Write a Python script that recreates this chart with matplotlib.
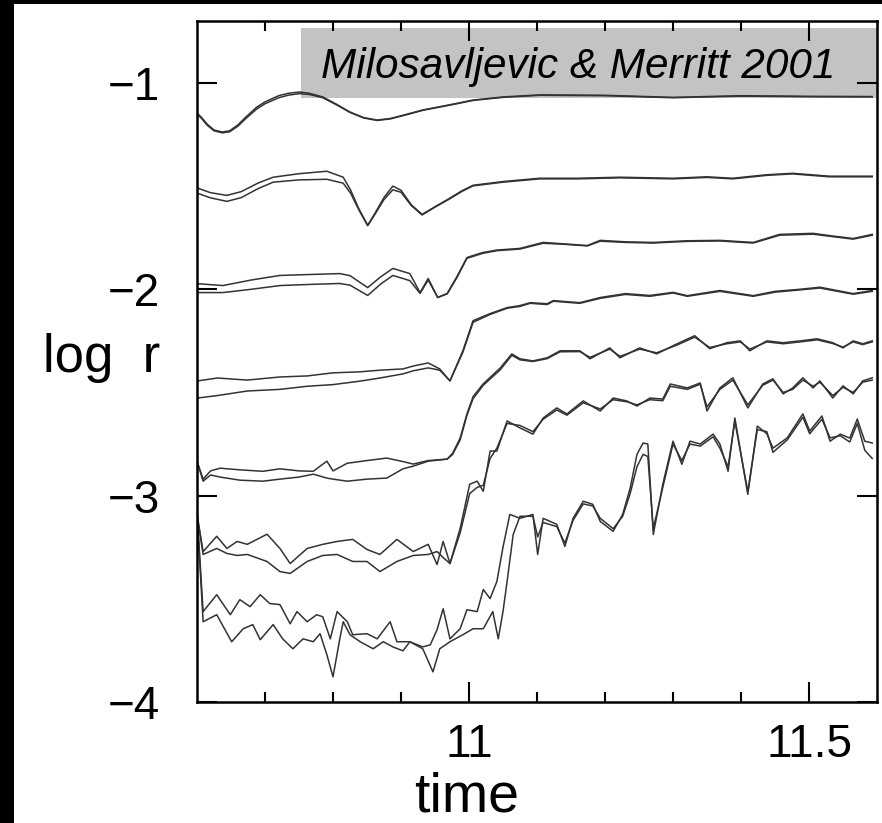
import matplotlib
matplotlib.use('Agg')
import matplotlib.pyplot as plt
from matplotlib.patches import Rectangle
from matplotlib.ticker import FixedLocator

plt.rcParams['font.family'] = ['Liberation Sans', 'DejaVu Sans']

# ---------------- data (time, log r) ----------------
t1 = [10.600, 10.606, 10.615, 10.625, 10.637, 10.648, 10.660, 10.672, 10.688, 10.700, 10.720, 10.735, 10.751, 10.765, 10.785, 10.805, 10.825, 10.845, 10.865, 10.885, 10.905, 10.932, 10.970, 11.006, 11.050, 11.104, 11.200, 11.300, 11.400, 11.500, 11.593]
r1a = [-1.146, -1.165, -1.200, -1.228, -1.238, -1.232, -1.204, -1.165, -1.117, -1.092, -1.062, -1.050, -1.044, -1.050, -1.068, -1.103, -1.141, -1.168, -1.180, -1.172, -1.155, -1.131, -1.107, -1.083, -1.068, -1.058, -1.060, -1.070, -1.062, -1.065, -1.066]
r1b = [-1.150, -1.170, -1.205, -1.232, -1.242, -1.237, -1.210, -1.172, -1.126, -1.101, -1.072, -1.059, -1.052, -1.056, -1.072, -1.106, -1.143, -1.170, -1.182, -1.174, -1.157, -1.133, -1.109, -1.085, -1.070, -1.060, -1.062, -1.072, -1.064, -1.067, -1.068]

t2 = [10.601, 10.620, 10.644, 10.665, 10.690, 10.712, 10.750, 10.791, 10.815, 10.826, 10.838, 10.851, 10.862, 10.875, 10.888, 10.900, 10.915, 10.931, 10.950, 10.970, 10.990, 11.006, 11.050, 11.104, 11.160, 11.222, 11.300, 11.350, 11.388, 11.438, 11.476, 11.530, 11.593]
r2a = [-1.510, -1.532, -1.545, -1.527, -1.485, -1.457, -1.440, -1.428, -1.457, -1.520, -1.610, -1.690, -1.630, -1.555, -1.500, -1.520, -1.590, -1.637, -1.600, -1.562, -1.522, -1.496, -1.478, -1.462, -1.462, -1.457, -1.462, -1.455, -1.462, -1.445, -1.438, -1.452, -1.452]
r2b = [-1.535, -1.557, -1.574, -1.556, -1.512, -1.481, -1.470, -1.467, -1.486, -1.535, -1.615, -1.692, -1.635, -1.565, -1.518, -1.530, -1.594, -1.640, -1.602, -1.565, -1.525, -1.499, -1.481, -1.465, -1.465, -1.460, -1.465, -1.458, -1.465, -1.448, -1.441, -1.455, -1.455]

t3 = [10.601, 10.638, 10.680, 10.722, 10.770, 10.810, 10.825, 10.851, 10.870, 10.888, 10.913, 10.928, 10.940, 10.954, 10.968, 10.982, 10.997, 11.020, 11.041, 11.075, 11.109, 11.140, 11.174, 11.193, 11.230, 11.271, 11.320, 11.369, 11.418, 11.457, 11.506, 11.535, 11.565, 11.593]
r3a = [-1.973, -1.982, -1.955, -1.933, -1.928, -1.924, -1.934, -1.992, -1.940, -1.899, -1.924, -2.016, -1.948, -2.040, -2.020, -1.940, -1.846, -1.822, -1.810, -1.802, -1.773, -1.780, -1.788, -1.763, -1.770, -1.773, -1.765, -1.763, -1.773, -1.734, -1.729, -1.742, -1.754, -1.734]
r3b = [-2.016, -2.016, -2.000, -1.982, -1.976, -1.972, -1.980, -2.030, -1.975, -1.933, -1.958, -2.020, -1.955, -2.040, -2.022, -1.945, -1.850, -1.826, -1.813, -1.805, -1.777, -1.782, -1.790, -1.767, -1.773, -1.776, -1.768, -1.766, -1.776, -1.738, -1.733, -1.745, -1.757, -1.738]

t4 = [10.601, 10.630, 10.674, 10.722, 10.762, 10.800, 10.840, 10.869, 10.903, 10.918, 10.940, 10.957, 10.972, 10.991, 11.006, 11.031, 11.056, 11.075, 11.090, 11.115, 11.124, 11.163, 11.193, 11.230, 11.266, 11.300, 11.321, 11.369, 11.418, 11.450, 11.487, 11.516, 11.565, 11.593]
r4a = [-2.444, -2.430, -2.440, -2.425, -2.420, -2.405, -2.400, -2.392, -2.386, -2.372, -2.357, -2.386, -2.444, -2.298, -2.152, -2.118, -2.089, -2.079, -2.065, -2.070, -2.055, -2.065, -2.040, -2.021, -2.030, -2.015, -2.031, -2.006, -2.031, -2.010, -2.000, -1.990, -2.021, -2.006]
r4b = [-2.527, -2.515, -2.493, -2.485, -2.470, -2.462, -2.445, -2.430, -2.410, -2.395, -2.381, -2.392, -2.444, -2.305, -2.160, -2.122, -2.092, -2.083, -2.068, -2.074, -2.058, -2.068, -2.044, -2.025, -2.034, -2.018, -2.034, -2.010, -2.034, -2.014, -2.003, -1.994, -2.024, -2.010]

t5 = [10.600, 10.609, 10.620, 10.634, 10.663, 10.697, 10.722, 10.750, 10.771, 10.791, 10.800, 10.821, 10.850, 10.879, 10.903, 10.918, 10.940, 10.968, 10.976, 10.987, 10.997, 11.006, 11.021, 11.046, 11.063, 11.075, 11.094, 11.115, 11.134, 11.163, 11.178, 11.207, 11.222, 11.251, 11.276, 11.306, 11.332, 11.354, 11.379, 11.399, 11.413, 11.438, 11.462, 11.487, 11.512, 11.535, 11.550, 11.565, 11.579, 11.593]
r5a = [-2.833, -2.920, -2.880, -2.867, -2.875, -2.882, -2.870, -2.880, -2.882, -2.833, -2.880, -2.843, -2.830, -2.818, -2.835, -2.847, -2.830, -2.823, -2.794, -2.721, -2.604, -2.520, -2.458, -2.381, -2.313, -2.337, -2.347, -2.332, -2.298, -2.298, -2.337, -2.284, -2.332, -2.284, -2.313, -2.264, -2.225, -2.288, -2.259, -2.250, -2.298, -2.250, -2.259, -2.250, -2.240, -2.259, -2.284, -2.250, -2.264, -2.250]
r5b = [-2.833, -2.930, -2.900, -2.910, -2.925, -2.930, -2.920, -2.910, -2.896, -2.915, -2.920, -2.930, -2.920, -2.915, -2.870, -2.857, -2.833, -2.823, -2.800, -2.730, -2.610, -2.530, -2.465, -2.390, -2.320, -2.342, -2.350, -2.336, -2.303, -2.302, -2.330, -2.290, -2.325, -2.290, -2.308, -2.270, -2.232, -2.282, -2.264, -2.255, -2.290, -2.255, -2.264, -2.255, -2.245, -2.263, -2.280, -2.255, -2.268, -2.255]

t6 = [10.600, 10.609, 10.629, 10.644, 10.659, 10.674, 10.703, 10.722, 10.737, 10.762, 10.785, 10.806, 10.829, 10.850, 10.869, 10.894, 10.918, 10.940, 10.953, 10.962, 10.972, 10.987, 11.001, 11.012, 11.021, 11.031, 11.041, 11.056, 11.075, 11.094, 11.109, 11.129, 11.144, 11.168, 11.193, 11.212, 11.232, 11.247, 11.266, 11.285, 11.296, 11.321, 11.340, 11.350, 11.369, 11.388, 11.410, 11.432, 11.447, 11.462, 11.476, 11.491, 11.506, 11.516, 11.535, 11.550, 11.565, 11.579, 11.593]
r6a = [-3.090, -3.271, -3.197, -3.256, -3.222, -3.236, -3.187, -3.256, -3.329, -3.256,
       -3.236, -3.222, -3.212, -3.261, -3.285, -3.212, -3.271, -3.236, -3.334, -3.222,
       -3.329, -3.159, -2.945, -2.930, -2.979, -2.784, -2.784, -2.638, -2.672, -2.702,
       -2.624, -2.575, -2.604, -2.541, -2.590, -2.527, -2.541, -2.566, -2.527, -2.532,
       -2.459, -2.478, -2.454, -2.590, -2.478, -2.429, -2.575, -2.459, -2.434, -2.507,
       -2.478, -2.429, -2.478, -2.444, -2.527, -2.468, -2.507, -2.444, -2.429]
r6b = [-3.090, -3.285, -3.256, -3.280, -3.290, -3.285, -3.319, -3.368, -3.377, -3.319,
       -3.290, -3.285, -3.319, -3.319, -3.368, -3.319, -3.290, -3.285, -3.271, -3.300,
       -3.329, -3.180, -2.990, -2.960, -2.950, -2.820, -2.770, -2.650, -2.660, -2.690,
       -2.630, -2.585, -2.610, -2.550, -2.580, -2.535, -2.545, -2.560, -2.535, -2.540,
       -2.470, -2.485, -2.460, -2.570, -2.485, -2.440, -2.560, -2.465, -2.440, -2.500,
       -2.485, -2.440, -2.470, -2.450, -2.515, -2.475, -2.500, -2.450, -2.440]

t7a = [10.600, 10.609, 10.629, 10.649, 10.663, 10.678, 10.693, 10.707, 10.722, 10.737,
       10.747, 10.762, 10.776, 10.785, 10.796, 10.806, 10.821, 10.829, 10.850, 10.865,
       10.884, 10.894, 10.913, 10.932, 10.943, 10.953, 10.962, 10.972, 10.987, 10.997,
       11.012, 11.021, 11.031, 11.041, 11.050, 11.060, 11.075, 11.094, 11.101, 11.109,
       11.129, 11.141, 11.153, 11.168, 11.182, 11.193, 11.212, 11.226, 11.237, 11.247,
       11.256, 11.263, 11.271, 11.285, 11.300, 11.313, 11.325, 11.340, 11.359, 11.369,
       11.381, 11.391, 11.410, 11.424, 11.438, 11.447, 11.468, 11.491, 11.501, 11.519,
       11.531, 11.546, 11.560, 11.571, 11.582, 11.593]
r7a = [-3.080, -3.562, -3.480, -3.577, -3.504, -3.538, -3.480, -3.523, -3.528, -3.621,
       -3.562, -3.611, -3.577, -3.587, -3.694, -3.562, -3.611, -3.674, -3.669, -3.694,
       -3.611, -3.708, -3.708, -3.733, -3.723, -3.650, -3.548, -3.694, -3.645, -3.553,
       -3.562, -3.455, -3.499, -3.416, -3.250, -3.091, -3.110, -3.091, -3.285, -3.110,
       -3.139, -3.246, -3.110, -3.027, -3.042, -3.125, -3.173, -3.091, -2.964, -2.800,
       -2.745, -2.750, -3.188, -2.945, -2.736, -2.848, -2.736, -2.750, -2.702, -2.750,
       -2.882, -2.624, -2.994, -2.663, -2.700, -2.770, -2.720, -2.604, -2.687, -2.614,
       -2.736, -2.702, -2.721, -2.629, -2.736, -2.745]
t7b = [10.600, 10.609, 10.629, 10.651, 10.668, 10.682, 10.693, 10.712, 10.726, 10.741,
       10.756, 10.771, 10.781, 10.791, 10.800, 10.810, 10.815, 10.825, 10.840, 10.859,
       10.874, 10.888, 10.903, 10.913, 10.932, 10.947, 10.957, 10.972, 10.991, 11.006,
       11.021, 11.035, 11.043, 11.050, 11.056, 11.065, 11.075, 11.094, 11.101, 11.109,
       11.129, 11.141, 11.153, 11.168, 11.182, 11.193, 11.212, 11.226, 11.237, 11.247,
       11.256, 11.263, 11.271, 11.285, 11.300, 11.313, 11.325, 11.340, 11.359, 11.369,
       11.381, 11.391, 11.410, 11.424, 11.438, 11.447, 11.468, 11.491, 11.501, 11.519,
       11.531, 11.546, 11.560, 11.571, 11.582, 11.593]
r7b = [-3.080, -3.611, -3.577, -3.708, -3.645, -3.625, -3.698, -3.625, -3.694, -3.742,
       -3.694, -3.708, -3.669, -3.771, -3.878, -3.694, -3.611, -3.674, -3.708, -3.742,
       -3.708, -3.733, -3.752, -3.708, -3.742, -3.854, -3.742, -3.708, -3.674, -3.645,
       -3.645, -3.562, -3.694, -3.562, -3.416, -3.188, -3.100, -3.100, -3.200, -3.130,
       -3.150, -3.230, -3.120, -3.040, -3.050, -3.110, -3.160, -3.100, -2.990, -2.860,
       -2.800, -2.810, -3.160, -2.960, -2.750, -2.830, -2.750, -2.760, -2.715, -2.770,
       -2.860, -2.640, -2.980, -2.680, -2.690, -2.790, -2.730, -2.620, -2.700, -2.630,
       -2.720, -2.710, -2.740, -2.650, -2.780, -2.820]

x_ticks = [11, 11.5]
x_tick_labels = ['11', '11.5']
x_minor = [10.7, 10.8, 10.9, 11.1, 11.2, 11.3, 11.4]
y_ticks = [-1, -2, -3, -4]
y_tick_labels = ['\u22121', '\u22122', '\u22123', '\u22124']
annotation = 'Milosavljevic & Merritt 2001'

# ---------------- figure ----------------
W, H = 882, 823
fig = plt.figure(figsize=(W / 100, H / 100), dpi=100)
fig.patch.set_facecolor('white')
ax = fig.add_axes([197 / W, 121 / H, 680 / W, 681 / H])

series = [(t1, r1a), (t1, r1b), (t2, r2a), (t2, r2b), (t3, r3a), (t3, r3b),
          (t4, r4a), (t4, r4b), (t5, r5a), (t5, r5b), (t6, r6a), (t6, r6b),
          (t7a, r7a), (t7b, r7b)]
for t, r in series:
    ax.plot(t, r, color='#333333', lw=1.1, zorder=2)

ax.set_xlim(10.6, 11.6)
ax.set_ylim(-4.0, -0.70)
ax.set_xticks(x_ticks)
ax.set_xticklabels(x_tick_labels)
ax.xaxis.set_minor_locator(FixedLocator(x_minor))
ax.set_yticks(y_ticks)
ax.set_yticklabels(y_tick_labels)
ax.tick_params(which='both', direction='in', top=True, right=True, width=1.5, color='black')
ax.tick_params(which='major', length=14.4, labelsize=33)
ax.tick_params(which='minor', length=7.2)
ax.tick_params(axis='y', which='major', pad=27)
ax.tick_params(axis='x', which='major', pad=15)
for s in ax.spines.values():
    s.set_linewidth(1.8)

ax.text(0.397, -0.1615, 'time', transform=ax.transAxes, ha='center', va='baseline', fontsize=40)
ax.text(-0.054, 0.4846, 'log  r', transform=ax.transAxes, ha='right', va='baseline', fontsize=38)

# annotation box
ax.add_patch(Rectangle((0.153, 0.887), 0.847, 0.103, transform=ax.transAxes,
                       facecolor='#c3c3c3', edgecolor='none', zorder=1.2, clip_on=False))
ax.text(0.183, 0.917, annotation, transform=ax.transAxes, style='italic',
        fontsize=30.4, ha='left', va='baseline', zorder=3)

# black scan border
fig.add_artist(Rectangle((0, 0), 14 / W, 1, transform=fig.transFigure,
                         facecolor='black', edgecolor='none'))
fig.add_artist(Rectangle((0, 1 - 3.5 / H), 1, 3.5 / H, transform=fig.transFigure,
                         facecolor='black', edgecolor='none'))

fig.savefig('out.png', dpi=100)
